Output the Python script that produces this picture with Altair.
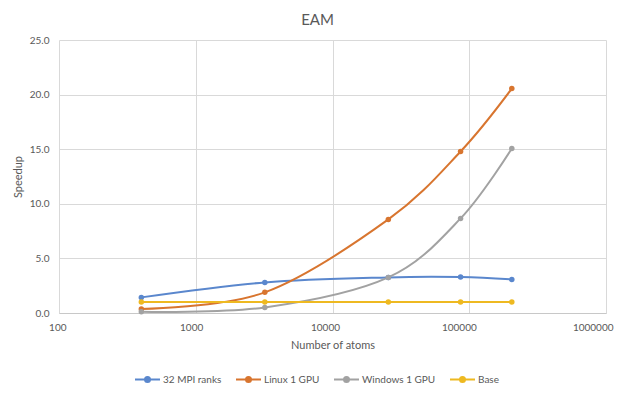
import altair as alt
import pandas as pd

atoms = [400, 3200, 25600, 86400, 204800]
mpi32 = [1.43, 2.80, 3.26, 3.29, 3.07]
linux_gpu = [0.37, 1.89, 8.57, 14.79, 20.55]
windows_gpu = [0.12, 0.51, 3.26, 8.66, 15.06]
base = [1.0, 1.0, 1.0, 1.0, 1.0]

series_names = ["32 MPI ranks", "Linux 1 GPU", "Windows 1 GPU", "Base"]
series_vals = [mpi32, linux_gpu, windows_gpu, base]
colors = ["#5A87CD", "#D8752F", "#A2A2A2", "#EEB921"]

x_ticks = [100, 1000, 10000, 100000, 1000000]
y_ticks = [0, 5, 10, 15, 20, 25]

rows = []
for name, vals in zip(series_names, series_vals):
    for i, (a, v) in enumerate(zip(atoms, vals)):
        rows.append({"series": name, "atoms": a, "speedup": v, "order": i})
df = pd.DataFrame(rows)

FONT = "Lato"
TXT = "#595959"

color = alt.Color(
    "series:N",
    scale=alt.Scale(domain=series_names, range=colors),
    sort=series_names,
    legend=alt.Legend(
        title=None,
        orient="none",
        direction="horizontal",
        legendX=75,
        legendY=326,
        symbolType="M-1,0H1M-0.2,0A0.2,0.2,0,1,1,0.2,0A0.2,0.2,0,1,1,-0.2,0Z",
        symbolSize=625,
        symbolStrokeWidth=2,
        labelOffset=2,
        columnPadding=10,
        gridAlign="none",
        labelFont=FONT,
        labelFontSize=10,
        labelColor=TXT,
        padding=0,
    ),
)

x = alt.X(
    "atoms:Q",
    scale=alt.Scale(type="log", domain=[100, 1000000]),
    axis=alt.Axis(
        values=x_ticks,
        format="d",
        title="Number of atoms",
        ticks=False,
        labelFlush=False,
        labelAlign="right",
        labelOffset=7,
        labelPadding=9,
        titlePadding=7,
        domainColor="#C8C8C8",
        gridColor="#D9D9D9",
    ),
)
y = alt.Y(
    "speedup:Q",
    scale=alt.Scale(domain=[0, 25], nice=False),
    axis=alt.Axis(
        values=y_ticks,
        format=".1f",
        title="Speedup",
        ticks=False,
        domain=False,
        labelPadding=10,
        titlePadding=6,
        gridColor="#D9D9D9",
    ),
)

base_chart = alt.Chart(df).encode(x=x, y=y, color=color, order="order:Q")
lines = base_chart.mark_line(interpolate="cardinal", strokeWidth=2)
points = base_chart.mark_point(filled=True, size=30, opacity=1)

chart = (
    alt.layer(lines, points)
    .properties(
        width=547,
        height=273,
        title=alt.TitleParams(
            "EAM",
            font=FONT,
            fontSize=15,
            fontWeight="normal",
            color=TXT,
            anchor="middle",
            dx=-15,
            offset=7,
        ),
        padding={"left": 51, "top": 32, "right": 24, "bottom": 73},
        autosize=alt.AutoSizeParams(type="none"),
    )
    .configure_axis(
        labelFont=FONT,
        labelFontSize=10,
        labelColor=TXT,
        titleFont=FONT,
        titleFontSize=11,
        titleFontWeight="normal",
        titleColor=TXT,
        gridWidth=1,
    )
    .configure_view(stroke=None)
)

chart.save("out.html", embed_options={"renderer": "svg", "actions": False})
